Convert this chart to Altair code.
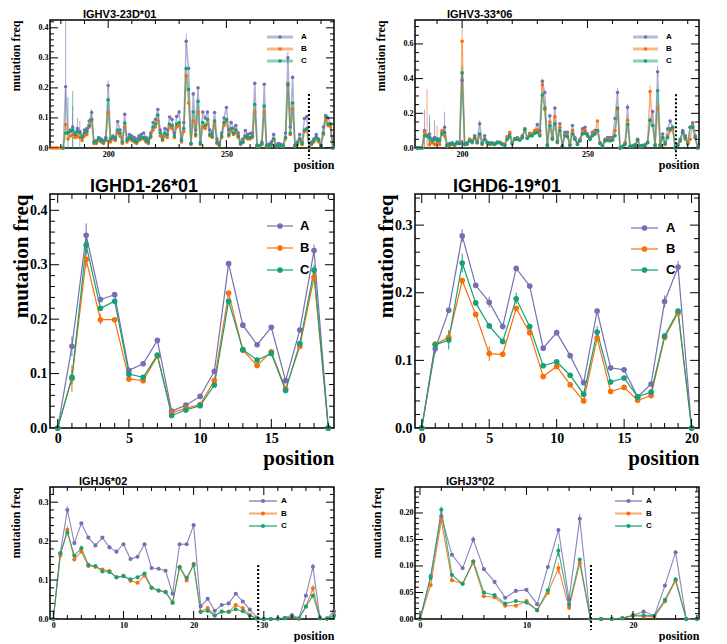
import altair as alt
import pandas as pd

SERIES = ["A", "B", "C"]
COLORS = ["#7570b3", "#f8700c", "#16a077"]
SERIF = "Liberation Serif"
SANS = "Liberation Sans"

# ---------------- IGHV3-23D*01 ----------------
V23_A_START = 181
V23_A = [0, 0.204, 0.05, 0.06, 0.07, 0.05, 0.065, 0.055, 0.04, 0.06,
         0.065, 0.09, 0.118, 0.02, 0.025, 0.035, 0.03, 0.025, 0.035, 0.208,
         0.03, 0.04, 0.035, 0.088, 0.06, 0.02, 0.112, 0.03, 0.045, 0.04,
         0.035, 0.03, 0.04, 0.045, 0.05, 0.035, 0.03, 0.05, 0.085, 0.095,
         0.128, 0.06, 0.04, 0.065, 0.06, 0.103, 0.095, 0.05, 0.105, 0.12,
         0.03, 0.085, 0.355, 0.265, 0.015, 0.18, 0.06, 0.2, 0.02, 0.12,
         0.1, 0.12, 0.06, 0.05, 0.118, 0.03, 0.015, 0.05, 0.1, 0.135,
         0.06, 0.085, 0.065, 0.075, 0.05, 0.02, 0.03, 0.058, 0.045, 0.048,
         0.05, 0.215, 0.01, 0.008, 0.02, 0.212, 0.01, 0.012, 0.02, 0.045,
         0.01, 0.015, 0.012, 0.01, 0.05, 0.30, 0.07, 0.235, 0.01, 0.02,
         0.045, 0.02, 0.098, 0.105, 0.0, 0.02, 0.03, 0.045, 0.03, 0.01,
         0.07, 0.108, 0.1, 0.08, 0.0]
V23_B_START = 176
V23_B = [0, 0, 0, 0, 0,
         0, 0.078, 0.03, 0.04, 0.045, 0.035, 0.04, 0.035, 0.025, 0.04,
         0.045, 0.07, 0.09, 0.015, 0.015, 0.025, 0.02, 0.015, 0.025, 0.118,
         0.02, 0.03, 0.025, 0.05, 0.04, 0.015, 0.07, 0.02, 0.03, 0.025,
         0.02, 0.015, 0.025, 0.03, 0.03, 0.02, 0.015, 0.035, 0.06, 0.07,
         0.09, 0.04, 0.025, 0.04, 0.035, 0.07, 0.065, 0.035, 0.07, 0.075,
         0.02, 0.055, 0.24, 0.15, 0.012, 0.09, 0.04, 0.12, 0.012, 0.07,
         0.065, 0.08, 0.04, 0.035, 0.08, 0.015, 0.008, 0.035, 0.075, 0.09,
         0.04, 0.055, 0.045, 0.05, 0.035, 0.012, 0.018, 0.035, 0.03, 0.03,
         0.035, 0.12, 0.006, 0.004, 0.012, 0.12, 0.004, 0.006, 0.01, 0.028,
         0.005, 0.008, 0.006, 0.005, 0.03, 0.215, 0.045, 0.13, 0.006, 0.012,
         0.025, 0.012, 0.055, 0.06, 0, 0.012, 0.02, 0.03, 0.02, 0.006,
         0.045, 0.093, 0.075, 0.07, 0]
V23_C_START = 181
V23_C = [0, 0.05, 0.05, 0.055, 0.06, 0.045, 0.055, 0.05, 0.035, 0.05,
         0.055, 0.075, 0.095, 0.02, 0.02, 0.03, 0.025, 0.02, 0.03, 0.16,
         0.03, 0.035, 0.03, 0.06, 0.05, 0.02, 0.083, 0.025, 0.035, 0.03,
         0.025, 0.02, 0.03, 0.035, 0.035, 0.025, 0.02, 0.04, 0.07, 0.08,
         0.11, 0.05, 0.03, 0.05, 0.045, 0.08, 0.075, 0.04, 0.08, 0.085,
         0.025, 0.065, 0.265, 0.195, 0.015, 0.12, 0.045, 0.155, 0.015, 0.085,
         0.075, 0.095, 0.045, 0.04, 0.09, 0.02, 0.01, 0.04, 0.085, 0.095,
         0.045, 0.065, 0.05, 0.06, 0.04, 0.015, 0.02, 0.04, 0.035, 0.035,
         0.04, 0.145, 0.008, 0.005, 0.015, 0.14, 0.005, 0.008, 0.012, 0.03,
         0.006, 0.01, 0.008, 0.006, 0.035, 0.21, 0.05, 0.15, 0.008, 0.015,
         0.03, 0.015, 0.06, 0.065, 0, 0.015, 0.025, 0.035, 0.025, 0.008,
         0.05, 0.105, 0.08, 0.08, 0]
V23_ERR = [("A", 182, 0.06, 0.45), ("C", 183, 0.0, 0.17), ("C", 185, 0.0, 0.19),
           ("A", 185, 0.0, 0.14), ("A", 187, 0.03, 0.10), ("A", 188, 0.0, 0.09),
           ("A", 193, 0.09, 0.13), ("A", 233, 0.33, 0.38), ("A", 276, 0.28, 0.32),
           ("A", 200, 0.19, 0.225)]
V23_CUT = (284.9, 0.18)

# ---------------- IGHV3-33*06 ----------------
V33_START = 182
V33_A = [0, 0, 0, 0.1, 0.07, 0.08, 0.05, 0.06, 0.055,
         0.05, 0.09, 0.12, 0.02, 0.025, 0.03, 0.02, 0.035, 0.03, 0.39,
         0.025, 0.03, 0.05, 0.04, 0.07, 0.04, 0.14, 0.03, 0.07, 0.035,
         0.03, 0.03, 0.025, 0.035, 0.03, 0.025, 0.02, 0.065, 0.08, 0.03,
         0.055, 0.06, 0.05, 0.07, 0.11, 0.06, 0.085, 0.08, 0.1, 0.135,
         0.1, 0.385, 0.32, 0.02, 0.185, 0.06, 0.23, 0.04, 0.14, 0.012,
         0.09, 0.09, 0.02, 0.13, 0.06, 0.03, 0.05, 0.11, 0.12, 0.08,
         0.06, 0.09, 0.1, 0.1, 0.03, 0.015, 0.05, 0.06, 0.06, 0.06,
         0.17, 0.32, 0, 0.01, 0.03, 0.235, 0.01, 0.012, 0.02, 0.05,
         0.012, 0.015, 0.02, 0.035, 0.16, 0.21, 0.02, 0.44, 0.02, 0.08,
         0.03, 0.11, 0.155, 0.12, 0, 0.02, 0.05, 0.1, 0.07, 0.03,
         0.12, 0.145, 0.07, 0]
V33_B = [0, 0, 0, 0.09, 0.07, 0.02, 0.03, 0.02, 0.03,
         0.02, 0.1, 0.07, 0.01, 0.015, 0.02, 0.015, 0.025, 0.03, 0.615,
         0.02, 0.02, 0.05, 0.03, 0.055, 0.03, 0.07, 0.02, 0.05, 0.03,
         0.02, 0.025, 0.02, 0.03, 0.035, 0.02, 0.02, 0.06, 0.09, 0.03,
         0.05, 0.055, 0.05, 0.06, 0.11, 0.06, 0.08, 0.08, 0.1, 0.105,
         0.08, 0.365, 0.22, 0.015, 0.15, 0.055, 0.18, 0.03, 0.12, 0.01,
         0.075, 0.07, 0.02, 0.1, 0.055, 0.02, 0.045, 0.09, 0.1, 0.07,
         0.05, 0.08, 0.09, 0.155, 0.03, 0.012, 0.04, 0.05, 0.05, 0.05,
         0.1, 0.22, 0, 0.008, 0.025, 0.16, 0.008, 0.01, 0.015, 0.04,
         0.008, 0.01, 0.015, 0.03, 0.325, 0.13, 0.015, 0.23, 0.015, 0.06,
         0.02, 0.07, 0.1, 0.11, 0, 0.015, 0.04, 0.09, 0.05, 0.03,
         0.05, 0.13, 0.06, 0]
V33_C = [0, 0, 0, 0.07, 0.07, 0.06, 0.04, 0.05, 0.045,
         0.04, 0.08, 0.09, 0.015, 0.02, 0.025, 0.02, 0.03, 0.025, 0.433,
         0.02, 0.025, 0.04, 0.035, 0.06, 0.03, 0.08, 0.025, 0.05, 0.03,
         0.025, 0.025, 0.02, 0.03, 0.03, 0.02, 0.015, 0.05, 0.065, 0.025,
         0.05, 0.05, 0.045, 0.06, 0.105, 0.055, 0.07, 0.07, 0.085, 0.09,
         0.07, 0.305, 0.23, 0.015, 0.13, 0.05, 0.14, 0.035, 0.1, 0.01,
         0.07, 0.065, 0.015, 0.08, 0.05, 0.02, 0.04, 0.08, 0.085, 0.07,
         0.05, 0.07, 0.08, 0.1, 0.025, 0.012, 0.04, 0.045, 0.04, 0.045,
         0.07, 0.23, 0, 0.008, 0.02, 0.135, 0.008, 0.01, 0.015, 0.045,
         0.01, 0.012, 0.015, 0.03, 0.16, 0.13, 0.015, 0.33, 0.015, 0.06,
         0.025, 0.06, 0.11, 0.12, 0, 0.015, 0.04, 0.09, 0.06, 0.025,
         0.12, 0.12, 0.06, 0]
V33_ERR = [("A", 185, 0.0, 0.22), ("B", 186, 0.0, 0.34), ("A", 187, 0.0, 0.19),
           ("C", 187, 0.0, 0.15), ("A", 189, 0.0, 0.16), ("B", 190, 0.0, 0.13),
           ("A", 193, 0.05, 0.21), ("B", 200, 0.53, 0.70), ("C", 200, 0.39, 0.475),
           ("A", 200, 0.35, 0.43), ("A", 278, 0.41, 0.475), ("B", 275, 0.29, 0.36),
           ("A", 262, 0.30, 0.345), ("A", 266, 0.215, 0.255), ("A", 232, 0.37, 0.40),
           ("A", 207, 0.12, 0.16)]
V33_CUT = (285.3, 0.31)

# ---------------- IGHD1-26*01 ----------------
D126_A = [0, 0.150, 0.354, 0.236, 0.245, 0.106, 0.118, 0.161, 0.031, 0.042,
          0.058, 0.104, 0.302, 0.189, 0.153, 0.185, 0.087, 0.180, 0.326, 0]
D126_B = [0, 0.091, 0.310, 0.199, 0.199, 0.090, 0.087, 0.132, 0.028, 0.036,
          0.043, 0.087, 0.248, 0.143, 0.115, 0.140, 0.072, 0.150, 0.277, 0]
D126_C = [0, 0.093, 0.336, 0.220, 0.233, 0.099, 0.093, 0.134, 0.023, 0.033,
          0.041, 0.079, 0.233, 0.144, 0.125, 0.137, 0.069, 0.155, 0.290, 0]
D126_ERR = [("A", 1, 0.132, 0.168), ("B", 1, 0.066, 0.116), ("C", 1, 0.080, 0.106),
            ("A", 2, 0.333, 0.376), ("B", 2, 0.295, 0.325), ("C", 2, 0.320, 0.352),
            ("A", 18, 0.315, 0.337), ("C", 18, 0.280, 0.300), ("B", 3, 0.190, 0.210)]

# ---------------- IGHD6-19*01 ----------------
D619_A = [0, 0.117, 0.174, 0.284, 0.211, 0.186, 0.150, 0.236, 0.210, 0.118,
          0.141, 0.107, 0.067, 0.173, 0.089, 0.086, 0.046, 0.065, 0.187, 0.238, 0]
D619_B = [0, 0.124, 0.134, 0.218, 0.168, 0.110, 0.109, 0.177, 0.141, 0.076,
          0.091, 0.064, 0.040, 0.133, 0.054, 0.060, 0.041, 0.048, 0.134, 0.170, 0]
D619_C = [0, 0.123, 0.130, 0.244, 0.185, 0.151, 0.128, 0.191, 0.150, 0.092,
          0.098, 0.078, 0.050, 0.142, 0.068, 0.074, 0.046, 0.053, 0.136, 0.173, 0]
D619_ERR = [("A", 3, 0.275, 0.294), ("C", 3, 0.230, 0.258), ("C", 2, 0.116, 0.145),
            ("B", 2, 0.125, 0.143), ("B", 5, 0.099, 0.121), ("A", 5, 0.178, 0.194),
            ("C", 7, 0.183, 0.200), ("A", 18, 0.178, 0.196), ("A", 19, 0.230, 0.247),
            ("C", 13, 0.134, 0.151), ("A", 1, 0.110, 0.125)]

# ---------------- IGHJ6*02 ----------------
J6_A = [0, 0.169, 0.280, 0.195, 0.246, 0.209, 0.189, 0.209, 0.184, 0.173,
        0.192, 0.154, 0.160, 0.192, 0.131, 0.129, 0.124, 0.065, 0.192, 0.192,
        0.241, 0.033, 0.052, 0.021, 0.036, 0.040, 0.065, 0.045, 0.024, 0.004,
        0.0, 0.0, 0.001, 0.003, 0.010, 0.002, 0.060, 0.134, 0.002, 0.001, 0.020]
J6_B = [0, 0.163, 0.229, 0.153, 0.173, 0.136, 0.134, 0.127, 0.123, 0.107,
        0.111, 0.098, 0.093, 0.112, 0.080, 0.073, 0.070, 0.042, 0.134, 0.099,
        0.142, 0.019, 0.028, 0.009, 0.019, 0.019, 0.036, 0.028, 0.011, 0.001,
        0.0, 0.0, 0.001, 0.002, 0.004, 0.001, 0.032, 0.079, 0.002, 0.001, 0.011]
J6_C = [0, 0.169, 0.222, 0.163, 0.182, 0.139, 0.136, 0.122, 0.121, 0.107,
        0.110, 0.102, 0.107, 0.117, 0.080, 0.073, 0.069, 0.042, 0.133, 0.106,
        0.139, 0.018, 0.021, 0.009, 0.019, 0.018, 0.025, 0.020, 0.009, 0.001,
        0.0, 0.0, 0.001, 0.002, 0.005, 0.001, 0.032, 0.060, 0.002, 0.001, 0.008]
J6_ERR = [("B", 2, 0.218, 0.240), ("A", 2, 0.270, 0.290), ("C", 4, 0.175, 0.188),
          ("B", 37, 0.070, 0.088), ("A", 37, 0.125, 0.142)]
J6_CUT = (29.2, 0.139)

# ---------------- IGHJ3*02 ----------------
J3_A = [0, 0.081, 0.194, 0.121, 0.096, 0.150, 0.094, 0.070, 0.040, 0.053,
        0.055, 0.028, 0.098, 0.168, 0.037, 0.189, 0, 0, 0, 0.002,
        0.007, 0.014, 0.006, 0.063, 0.126, 0, 0]
J3_B = [0, 0.064, 0.186, 0.073, 0.067, 0.106, 0.043, 0.041, 0.025, 0.025,
        0.034, 0.016, 0.049, 0.096, 0.021, 0.105, 0, 0, 0, 0.002,
        0.006, 0.005, 0.004, 0.033, 0.072, 0, 0]
J3_C = [0, 0.078, 0.206, 0.083, 0.066, 0.109, 0.050, 0.045, 0.029, 0.034,
        0.031, 0.017, 0.054, 0.129, 0.027, 0.112, 0, 0, 0, 0.001,
        0.007, 0.007, 0.006, 0.036, 0.075, 0, 0]
J3_ERR = [("C", 13, 0.117, 0.142), ("B", 13, 0.085, 0.107), ("C", 2, 0.200, 0.212),
          ("A", 15, 0.180, 0.198), ("A", 5, 0.144, 0.156)]
J3_CUT = (16.06, 0.102)


def series_df(starts, lists):
    rows = []
    for s, st, vals in zip(SERIES, starts, lists):
        for i, v in enumerate(vals):
            rows.append({"series": s, "pos": st + i, "freq": v})
    return pd.DataFrame(rows)


def err_df(err):
    return pd.DataFrame(err, columns=["series", "pos", "lo", "hi"])


def minor(lo, hi, step, majors):
    out = []
    k = 0
    while True:
        v = round(lo + k * step, 6)
        if v > hi + 1e-9:
            break
        if all(abs(v - m) > 1e-9 for m in majors):
            out.append(v)
        k += 1
    return out


SMALL = dict(lab=8, axt=12, ttl=11, toff=0, lpad=2, ytpad=15.5, xtpad=1, ms=13, lw=1.5,
             lo=0.55, legfs=8, llw=3, llo=0.5, L=8, l=4)
BIG = dict(lab=14, axt=21, ttl=18, toff=-2, lpad=3, ytpad=-1.5, xtpad=2, ms=32, lw=1.2,
           lo=1.0, legfs=13, llw=1.2, llo=1.0, L=9, l=5)
BOTTOM = dict(SMALL, ms=17, lw=1.1, lo=0.85, llw=2, llo=0.6)


def panel(title, dx, df, err, cut, xdom, ydom, xlab, xmin, ylab, ymin, yfmt, st, w, h,
          legx, legy):
    xs = alt.Scale(domain=xdom, nice=False, zero=False)
    ys = alt.Scale(domain=ydom, nice=False, zero=False)
    cs = alt.Scale(domain=SERIES, range=COLORS)
    col = alt.Color("series:N", scale=cs, legend=None)
    xaxis = alt.Axis(values=xlab, format="d", ticks=False, domain=False, grid=False,
                     labelFont=SERIF, labelFontWeight="bold", labelFontSize=st["lab"],
                     labelColor="black", labelPadding=st["lpad"], labelFlush=False,
                     title="position", titleFont=SERIF, titleFontWeight="bold",
                     titleFontSize=st["axt"], titleColor="black", titleAnchor="end",
                     titlePadding=st["xtpad"])
    yaxis = alt.Axis(values=ylab, format=yfmt, ticks=False, domain=False, grid=False,
                     labelFont=SERIF, labelFontWeight="bold", labelFontSize=st["lab"],
                     labelColor="black", labelPadding=st["lpad"],
                     title="mutation freq", titleFont=SERIF, titleFontWeight="bold",
                     titleFontSize=st["axt"], titleColor="black", titleAnchor="end",
                     titlePadding=st["ytpad"])

    def X(f):
        return alt.X(f, scale=xs, axis=xaxis)

    def Y(f):
        return alt.Y(f, scale=ys, axis=yaxis)

    base = alt.Chart(df)
    lines = base.mark_line(strokeWidth=st["lw"], opacity=st["lo"]).encode(
        x=X("pos:Q"), y=Y("freq:Q"), color=col)
    errs = alt.Chart(err_df(err)).mark_rule(strokeWidth=1, opacity=max(st["lo"], 0.6),
                                            clip=True).encode(
        x=X("pos:Q"), y=Y("lo:Q"), y2="hi:Q", color=col)
    pts = base.mark_circle(size=st["ms"], opacity=1).encode(
        x=X("pos:Q"), y=Y("freq:Q"), color=col)
    layers = [lines, errs, pts]
    if cut is not None:
        cdf = pd.DataFrame({"pos": [cut[0]], "top": [cut[1]]})
        layers.append(alt.Chart(cdf).mark_rule(color="black", strokeWidth=2,
                                               strokeDash=[2, 2]).encode(
            x=X("pos:Q"), y=Y("top:Q"), y2=alt.value(h + 11)))
    # inward ticks on all four sides
    for vals, ln in ((xlab, st["L"]), (xmin, st["l"])):
        tdf = pd.DataFrame({"t": vals})
        b = alt.Chart(tdf).mark_rule(color="black", strokeWidth=1, clip=True)
        layers.append(b.encode(x=X("t:Q"), y=alt.value(h), y2=alt.value(h - ln)))
        layers.append(b.encode(x=X("t:Q"), y=alt.value(0), y2=alt.value(ln)))
    for vals, ln in ((ylab, st["L"]), (ymin, st["l"])):
        tdf = pd.DataFrame({"t": vals})
        b = alt.Chart(tdf).mark_rule(color="black", strokeWidth=1, clip=True)
        layers.append(b.encode(y=Y("t:Q"), x=alt.value(0), x2=alt.value(ln)))
        layers.append(b.encode(y=Y("t:Q"), x=alt.value(w), x2=alt.value(w - ln)))
    inner = alt.layer(*layers)

    ld = pd.DataFrame({"series": SERIES})
    ly = alt.Y("series:N", scale=alt.Scale(type="point", domain=SERIES, range=legy,
                                           padding=0), axis=None)
    leg_line = alt.Chart(ld).mark_rule(strokeWidth=st["llw"], opacity=st["llo"]).encode(
        x=alt.value(legx[0]), x2=alt.value(legx[1]), y=ly, color=col)
    leg_pt = alt.Chart(ld).mark_circle(size=st["ms"], opacity=1).encode(
        x=alt.value((legx[0] + legx[1]) / 2), y=ly, color=col)
    leg_tx = alt.Chart(ld).mark_text(align="left", baseline="middle", font=SANS,
                                     fontWeight="bold", fontSize=st["legfs"],
                                     color="black").encode(
        x=alt.value(legx[2]), y=ly, text="series:N")
    legend = alt.layer(leg_line, leg_pt, leg_tx)

    return alt.layer(inner, legend).resolve_scale(y="independent").properties(
        width=w, height=h,
        title=alt.TitleParams(title, anchor="start", frame="group", dx=dx,
                              offset=st["toff"], font=SANS, fontWeight="bold",
                              fontSize=st["ttl"], color="black"))


W = 284
H1, H2, H3 = 128, 234, 132

p1 = panel("IGHV3-23D*01", 33,
           series_df([V23_A_START, V23_B_START, V23_C_START], [V23_A, V23_B, V23_C]),
           V23_ERR, V23_CUT, [175.4, 295.5], [0, 0.426],
           [200, 250], minor(180, 290, 10, [200, 250]),
           [0, 0.1, 0.2, 0.3, 0.4], minor(0, 0.42, 0.02, [0, 0.1, 0.2, 0.3, 0.4]),
           ".1f", SMALL, W, H1, [217, 243, 251], [17, 41])
p2 = panel("IGHV3-33*06", 32,
           series_df([V33_START] * 3, [V33_A, V33_B, V33_C]),
           V33_ERR, V33_CUT, [181.2, 294.5], [0, 0.738],
           [200, 250], minor(190, 290, 10, [200, 250]),
           [0, 0.2, 0.4, 0.6], minor(0, 0.7, 0.05, [0, 0.2, 0.4, 0.6]),
           ".1f", SMALL, W, H1, [218, 243, 251], [17, 41])
p3 = panel("IGHD1-26*01", 40,
           series_df([0] * 3, [D126_A, D126_B, D126_C]),
           D126_ERR, None, [-0.54, 19.4], [0, 0.43],
           [0, 5, 10, 15], minor(0, 19, 1, [0, 5, 10, 15]),
           [0, 0.1, 0.2, 0.3, 0.4], minor(0, 0.42, 0.02, [0, 0.1, 0.2, 0.3, 0.4]),
           ".1f", BIG, W, H2, [217, 243, 250], [32, 76])
p4 = panel("IGHD6-19*01", 38,
           series_df([0] * 3, [D619_A, D619_B, D619_C]),
           D619_ERR, None, [-0.5, 20.55], [0, 0.346],
           [0, 5, 10, 15, 20], minor(0, 20, 1, [0, 5, 10, 15, 20]),
           [0, 0.1, 0.2, 0.3], minor(0, 0.34, 0.02, [0, 0.1, 0.2, 0.3]),
           ".1f", BIG, W, H2, [216, 243, 251], [34, 76])
p5 = panel("IGHJ6*02", 29,
           series_df([0] * 3, [J6_A, J6_B, J6_C]),
           J6_ERR, J6_CUT, [-0.47, 40.0], [0, 0.339],
           [0, 10, 20, 30], minor(0, 40, 2, [0, 10, 20, 30]),
           [0, 0.1, 0.2, 0.3], minor(0, 0.32, 0.02, [0, 0.1, 0.2, 0.3]),
           ".1f", BOTTOM, W, H3, [199, 227, 231], [14, 39])
p6 = panel("IGHJ3*02", 31,
           series_df([0] * 3, [J3_A, J3_B, J3_C]),
           J3_ERR, J3_CUT, [-0.47, 26.2], [0, 0.249],
           [0, 10, 20], minor(0, 26, 2, [0, 10, 20]),
           [0, 0.05, 0.10, 0.15, 0.20], minor(0, 0.24, 0.01, [0, 0.05, 0.1, 0.15, 0.2]),
           ".2f", BOTTOM, W, H3, [200, 227, 231], [14, 39])

chart = alt.concat(p1, p2, p3, p4, p5, p6, columns=2,
                   spacing={"row": 6, "column": 32}, align="each", bounds="full"
                   ).properties(padding=0).configure_view(stroke="black", strokeWidth=1.5)

chart.save("out.html", embed_options={"renderer": "svg", "actions": False})
